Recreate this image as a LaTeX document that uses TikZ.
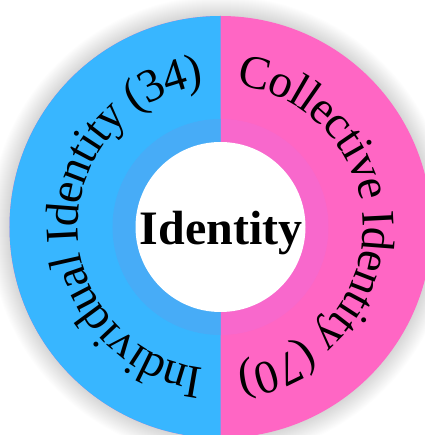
\documentclass[tikz,border=0pt]{standalone}
\usepackage{fontspec}
\setmainfont{Liberation Serif}
\usetikzlibrary{decorations.text}

\definecolor{indblue}{HTML}{38B6FF}
\definecolor{indblueinner}{HTML}{47ACF7}
\definecolor{colpink}{HTML}{FF66C4}
\definecolor{colpinkinner}{HTML}{F868CC}

\begin{document}
\begin{tikzpicture}[x=1pt,y=1pt,
    arctext/.style={decorate,decoration={text along path,text align=center,
      raise=-9.5pt,text={#1}}}]
  \useasboundingbox (-220.5,-208) rectangle (203.5,227);
  % soft shadow round the ring
  \foreach \r in {1,...,20}
    \fill[black,opacity=0.006] (0,0) circle[radius=211pt+\r pt];
  \fill[colpink] (0,0) circle[radius=211pt];
  \fill[indblue] (0,211pt) arc[start angle=90,end angle=270,radius=211pt] -- cycle;
  \fill[colpinkinner] (0,108pt) arc[start angle=90,end angle=-90,radius=108pt] -- cycle;
  \fill[indblueinner] (0,108pt) arc[start angle=90,end angle=270,radius=108pt] -- cycle;
  \fill[white] (0,0) circle[radius=85pt];
  % labels on the ring
  \path[arctext={|\fontsize{47}{50}\selectfont|Individual Identity (34)}]
    (0,-152pt) arc[start angle=270,end angle=90,radius=152pt];
  \path[arctext={|\fontsize{47}{50}\selectfont|Collective Identity (70)}]
    (0,152pt) arc[start angle=90,end angle=-90,radius=152pt];
  \node[font=\bfseries\fontsize{48}{50}\selectfont,anchor=base,inner sep=0pt]
    (core) at (0.5,-18) {Identity};
\end{tikzpicture}
\end{document}
